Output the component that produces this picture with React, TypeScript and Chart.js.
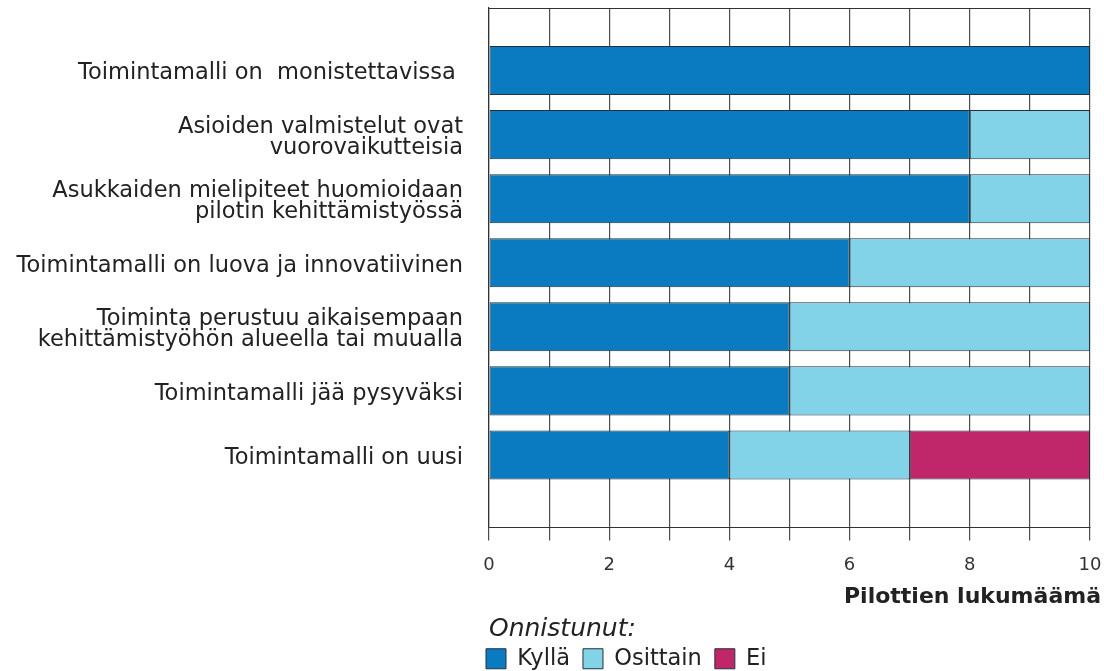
import React, { useEffect, useRef } from 'react';
import { Chart, registerables } from 'chart.js';

Chart.register(...registerables);
Chart.defaults.font.family = "'DejaVu Sans', 'Verdana', sans-serif";

const CATEGORIES: (string | string[])[] = [
  'Toimintamalli on  monistettavissa ',
  ['Asioiden valmistelut ovat', 'vuorovaikutteisia'],
  ['Asukkaiden mielipiteet huomioidaan', 'pilotin kehittämistyössä'],
  'Toimintamalli on luova ja innovatiivinen',
  ['Toiminta perustuu aikaisempaan', 'kehittämistyöhön alueella tai muualla'],
  'Toimintamalli jää pysyväksi',
  'Toimintamalli on uusi',
];
const KYLLA = [10, 8, 8, 6, 5, 5, 4];
const OSITTAIN = [0, 2, 2, 4, 5, 5, 3];
const EI = [0, 0, 0, 0, 0, 0, 3];
const SERIES_NAMES = ['Kyllä', 'Osittain', 'Ei'];
const SERIES_COLORS = ['#0b7bc1', '#82d3e8', '#c0266a'];
const X_TICK_LABELS = [0, 2, 4, 6, 8, 10];
const X_TITLE = 'Pilottien lukumäämä';
const LEGEND_TITLE = 'Onnistunut:';

const framePlugin = {
  id: 'frame',
  afterLayout(chart: any) {
    if (chart.legend) {
      chart.legend.left -= 16;
      chart.legend.right -= 16;
    }
    // let the axis title run a little past the plot's right edge, as in the original
    if (chart.scales && chart.scales.x) {
      chart.scales.x.right += 11;
    }
  },
  beforeDatasetsDraw(chart: any) {
    const { ctx, chartArea } = chart;
    const top = Math.round(chartArea.top) + 0.5;
    const bottom = Math.round(chartArea.bottom) + 0.5;
    ctx.save();
    ctx.strokeStyle = '#333';
    ctx.lineWidth = 1.2;
    ctx.beginPath();
    ctx.moveTo(chartArea.left, top);
    ctx.lineTo(chartArea.right + 0.5, top);
    ctx.moveTo(chartArea.left, bottom);
    ctx.lineTo(chartArea.right + 0.5, bottom);
    ctx.stroke();
    ctx.restore();
  },
};

export default function App() {
  const ref = useRef<HTMLCanvasElement>(null);
  useEffect(() => {
    const series = [KYLLA, OSITTAIN, EI];
    const chart = new Chart(ref.current as HTMLCanvasElement, {
      type: 'bar',
      data: {
        datasets: series.map((vals, s) => ({
          label: SERIES_NAMES[s],
          data: vals.map((v, i) => ({ x: v, y: i })),
          backgroundColor: SERIES_COLORS[s],
          borderColor: '#22313d',
          borderWidth: 1,
          borderSkipped: false,
          categoryPercentage: 1,
          barPercentage: 0.766,
        })),
      },
      options: {
        animation: false,
        responsive: true,
        maintainAspectRatio: false,
        indexAxis: 'y',
        layout: { padding: { top: 8, right: 14, left: 0, bottom: -9 } },
        plugins: {
          legend: {
            position: 'bottom',
            align: 'start',
            fullSize: false,
            labels: {
              boxWidth: 20,
              boxHeight: 20,
              padding: 13,
              color: '#222',
              font: { size: 22.5 },
            },
          },
          title: {
            display: true,
            text: LEGEND_TITLE,
            position: 'bottom',
            align: 'start',
            fullSize: false,
            weight: 500,
            color: '#222',
            font: { size: 25, style: 'italic', weight: 'normal', lineHeight: 0.88 },
            padding: { top: 8, bottom: -6 },
          },
          tooltip: { enabled: false },
        },
        scales: {
          x: {
            type: 'linear',
            position: 'bottom',
            min: 0,
            max: 10,
            stacked: true,
            grid: { color: '#4d4d4d', lineWidth: 1.2, tickLength: 14, drawTicks: true },
            border: { display: false },
            afterFit: (axis: any) => {
              axis.paddingLeft = 0;
              axis.paddingRight = 0;
            },
            ticks: {
              stepSize: 1,
              autoSkip: false,
              maxRotation: 0,
              padding: 14,
              color: '#333',
              font: { size: 18 },
              callback: (v: any) => (X_TICK_LABELS.includes(Number(v)) ? String(v) : ''),
            },
            title: {
              display: true,
              text: X_TITLE,
              align: 'end',
              color: '#222',
              font: { size: 22, weight: 'bold', lineHeight: 1.2 },
              padding: { top: -6, bottom: 0 },
            },
          },
          y: {
            type: 'linear',
            reverse: true,
            min: -0.977,
            max: 7.117,
            stacked: true,
            offset: false,
            grid: { display: false, drawTicks: false, offset: false },
            border: { display: true, color: '#333', width: 1.2 },
            afterBuildTicks: (axis: any) => {
              axis.ticks = CATEGORIES.map((_, i) => ({ value: i }));
            },
            afterFit: (axis: any) => {
              axis.width = 489;
              axis.paddingTop = 0;
              axis.paddingBottom = 0;
            },
            ticks: {
              autoSkip: false,
              padding: 26,
              labelOffset: 3,
              color: '#222',
              font: { size: 22.5, lineHeight: 0.94 },
              callback: (v: any) => CATEGORIES[Number(v)] ?? '',
            },
          },
        },
      },
      plugins: [framePlugin],
    } as any);
    return () => chart.destroy();
  }, []);
  return (
    <div style={{ position: 'fixed', left: 0, top: 0, width: 1104, height: 671 }}>
      <canvas ref={ref} />
    </div>
  );
}
